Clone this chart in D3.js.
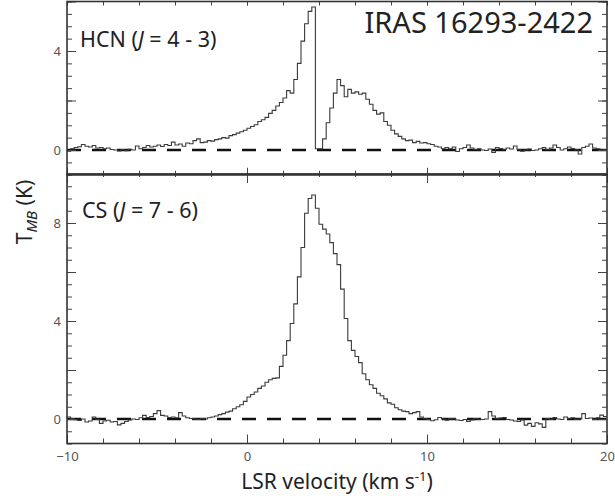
<!DOCTYPE html>
<html>
<head>
<meta charset="utf-8">
<script src="https://cdn.jsdelivr.net/npm/d3@7"></script>
<style>
  html, body { margin: 0; padding: 0; background: #fff; }
  svg { display: block; font-family: "Noto Sans", "DejaVu Sans", sans-serif; }
</style>
</head>
<body>
<svg id="chart" width="615" height="499"></svg>
<script>
// ---- Data (channel grid: start velocity and width in km/s) ----
const vStart = -10;
const channelWidth = 0.2;

// HCN (J = 4-3) main-beam temperature per channel (K)
const hcnValues = [
  -0.05, 0.05, 0.10, 0.13, 0.22, 0.15, 0.12, 0.18, 0.08, 0.10,
   0.05, 0.08, 0.02, 0.00, -0.04, 0.02, -0.03, 0.03, 0.00, 0.16,
   0.05, 0.10, 0.18, 0.12, 0.15, 0.20, 0.14, 0.22, 0.18, 0.32,
   0.20, 0.24, 0.15, 0.28, 0.25, 0.38, 0.45, 0.30, 0.32, 0.38,
   0.36, 0.42, 0.45, 0.50, 0.48, 0.58, 0.62, 0.68, 0.74, 0.80,
   0.88, 0.95, 1.02, 1.15, 1.22, 1.32, 1.48, 1.60, 1.78, 1.92,
   2.10, 2.40, 2.30, 2.85, 3.50, 4.40, 5.10, 5.60, 5.78, 0.05,
   0.05, 0.45, 1.10, 1.70, 2.30, 2.85, 2.60, 2.15, 2.45, 2.30,
   2.35, 2.25, 2.30, 2.05, 1.85, 1.60, 1.45, 1.50, 1.15, 1.00,
   0.80, 0.65, 0.55, 0.45, 0.38, 0.40, 0.30, 0.35, 0.28, 0.30,
   0.25, 0.22, 0.15, 0.12, 0.05, 0.10, 0.05, 0.12, -0.06, 0.05,
   0.10, 0.20, 0.08, 0.02, 0.05, 0.00, -0.02, 0.04, -0.10, 0.10,
   0.06, 0.02, 0.08, 0.04, 0.16, 0.02, -0.05, 0.00, 0.04, -0.02,
   0.00, 0.05, 0.10, 0.02, 0.08, 0.20, 0.10, 0.00, 0.05, 0.12,
   0.06, 0.02, -0.16, 0.10, 0.15, 0.24, 0.08, 0.05, 0.00, 0.02
];

// CS (J = 7-6) main-beam temperature per channel (K)
const csValues = [
   0.08, 0.02, -0.03, -0.06, 0.00, -0.12, -0.08, 0.08, -0.02, -0.18,
  -0.08, -0.05, -0.12, -0.10, -0.24, -0.18, -0.10, -0.04, 0.00, -0.02,
   0.05, 0.15, 0.06, 0.10, 0.22, 0.34, 0.15, 0.12, 0.06, 0.08,
   0.05, 0.26, 0.12, 0.05, 0.02, 0.00, -0.02, 0.02, 0.00, 0.05,
   0.08, 0.12, 0.18, 0.22, 0.28, 0.32, 0.42, 0.50, 0.58, 0.72,
   0.90, 1.00, 1.10, 1.25, 1.35, 1.50, 1.60, 1.66, 1.68, 2.15,
   2.60, 3.20, 3.90, 4.70, 5.80, 7.00, 8.40, 9.00, 9.14, 8.60,
   7.95, 7.75, 7.55, 7.20, 6.75, 6.30, 5.30, 4.10, 3.20, 2.80,
   2.55, 2.30, 1.85, 1.60, 1.40, 1.25, 1.05, 0.95, 0.82, 0.66,
   0.60, 0.46, 0.38, 0.32, 0.30, 0.22, 0.26, 0.30, 0.08, 0.02,
  -0.02, -0.07, -0.03, 0.06, 0.00, -0.05, 0.02, 0.01, -0.04, -0.06,
  -0.02, -0.10, -0.04, 0.02, -0.01, -0.02, 0.00, 0.30, 0.12, 0.02,
   0.04, 0.06, -0.02, -0.04, -0.08, -0.10, -0.04, -0.25, -0.18, -0.30,
  -0.15, -0.20, -0.34, 0.02, -0.02, 0.06, 0.00, -0.02, 0.08, 0.02,
   0.05, -0.02, 0.00, 0.22, 0.02, 0.04, -0.02, 0.05, 0.16, 0.10
];

const xDomain = [-10, 20];
const xTickLabels = [-10, 0, 10, 20];
const hcnDomain = [-1, 6];
const csDomain = [-1, 10];
const hcnTickLabels = [0, 4];
const csTickLabels = [0, 4, 8];

// ---- Layout ----
const svg = d3.select("#chart");
const left = 67, right = 607;
const topPanel = { top: 1.5, bottom: 174.75 };
const botPanel = { top: 174, bottom: 443.5 };

const x = d3.scaleLinear().domain(xDomain).range([left, right]);
const yTop = d3.scaleLinear().domain(hcnDomain).range([topPanel.bottom, topPanel.top]);
const yBot = d3.scaleLinear().domain(csDomain).range([botPanel.bottom, botPanel.top]);

const frameColor = "#333";
const tickColor = "#444";
const labelColor = "#555";

function points(values) {
  const pts = values.map((t, i) => [vStart + i * channelWidth, t]);
  pts.push([vStart + values.length * channelWidth, values[values.length - 1]]);
  return pts;
}

function drawPanel(y, values, panel, id, labelTicks, opts) {
  const g = svg.append("g");
  g.append("clipPath").attr("id", id)
    .append("rect").attr("x", left).attr("y", panel.top)
    .attr("width", right - left).attr("height", panel.bottom - panel.top);

  g.append("line")
    .attr("x1", x(xDomain[0])).attr("x2", x(xDomain[1]))
    .attr("y1", y(0)).attr("y2", y(0))
    .attr("stroke", "#111").attr("stroke-width", 2.5)
    .attr("stroke-dasharray", "14,11");

  const line = d3.line().curve(d3.curveStepAfter)
    .x(d => x(d[0])).y(d => y(d[1]));
  g.append("path").datum(points(values))
    .attr("clip-path", `url(#${id})`)
    .attr("d", line)
    .attr("fill", "none")
    .attr("stroke", "#3a3a3a")
    .attr("stroke-width", 1.1);

  const yMinor = d3.range(y.domain()[0], y.domain()[1] + 0.001, 0.5);
  const yMajor = d3.range(y.domain()[0] + 1, y.domain()[1] + 0.001, 2);
  const leftMinor = d3.axisRight(y).tickValues(yMinor).tickSize(5).tickFormat("");
  const leftMajor = d3.axisRight(y).tickValues(yMajor).tickSize(9).tickFormat("");
  const rightMinor = d3.axisLeft(y).tickValues(yMinor).tickSize(5).tickFormat("");
  const rightMajor = d3.axisLeft(y).tickValues(yMajor).tickSize(9).tickFormat("");
  [[leftMinor, left], [leftMajor, left], [rightMinor, right], [rightMajor, right]].forEach(([ax, px]) => {
    const a = g.append("g").attr("transform", `translate(${px},0)`).call(ax);
    a.select(".domain").remove();
    a.selectAll("line").attr("stroke", tickColor).attr("stroke-width", 1);
  });

  const lab = g.append("g").attr("transform", `translate(${left},0)`)
    .call(d3.axisLeft(y).tickValues(labelTicks).tickSize(0).tickPadding(6).tickFormat(d3.format("d")));
  lab.select(".domain").remove();
  lab.selectAll("text").attr("fill", labelColor).style("font-size", "13px")
    .style("font-family", '"Noto Sans", sans-serif');

  const xMinor = d3.range(-10, 20.001, 2);
  const xMajor = [-10, 0, 10, 20];
  const addX = (axisFn, py, values, size) => {
    const a = g.append("g").attr("transform", `translate(0,${py})`)
      .call(axisFn(x).tickValues(values).tickSize(size).tickFormat(""));
    a.select(".domain").remove();
    a.selectAll("line").attr("stroke", tickColor).attr("stroke-width", 1);
  };
  addX(d3.axisBottom, panel.top, xMinor, opts.topMinor);
  addX(d3.axisBottom, panel.top, xMajor, opts.topMajor);
  addX(d3.axisTop, panel.bottom, xMinor, opts.botMinor);
  addX(d3.axisTop, panel.bottom, xMajor, opts.botMajor);

  g.append("rect").attr("x", left).attr("y", panel.top)
    .attr("width", right - left).attr("height", panel.bottom - panel.top)
    .attr("fill", "none").attr("stroke", frameColor).attr("stroke-width", 1.6);
  return g;
}

drawPanel(yTop, hcnValues, topPanel, "clipTop", hcnTickLabels,
  { topMinor: 4, topMajor: 4, botMinor: 4, botMajor: 7 });
drawPanel(yBot, csValues, botPanel, "clipBot", csTickLabels,
  { topMinor: 3, topMajor: 9, botMinor: 5, botMajor: 9 });

svg.append("line").attr("x1", left).attr("x2", right)
  .attr("y1", 174.5).attr("y2", 174.5)
  .attr("stroke", frameColor).attr("stroke-width", 2.2);

const xl = svg.append("g").attr("transform", `translate(0,${botPanel.bottom})`)
  .call(d3.axisBottom(x).tickValues(xTickLabels).tickSize(0).tickPadding(8).tickFormat(d3.format("d")));
xl.select(".domain").remove();
xl.selectAll("text").attr("fill", labelColor).style("font-size", "13px")
  .style("font-family", '"Noto Sans", sans-serif');

// ---- Text ----
const textColor = "#222";
svg.append("text").attr("x", 593).attr("y", 33).attr("text-anchor", "end")
  .attr("fill", textColor).style("font-size", "29px").text("IRAS 16293-2422");

const t1 = svg.append("text").attr("x", 80).attr("y", 47).attr("fill", textColor).style("font-size", "21.5px");
t1.append("tspan").text("HCN (");
t1.append("tspan").style("font-style", "italic").text("J");
t1.append("tspan").text(" = 4 - 3)");

const t2 = svg.append("text").attr("x", 82).attr("y", 218).attr("fill", textColor).style("font-size", "21.5px");
t2.append("tspan").text("CS (");
t2.append("tspan").style("font-style", "italic").text("J");
t2.append("tspan").text(" = 7 - 6)");

const yl = svg.append("text")
  .attr("transform", "translate(32,212) rotate(-90)")
  .attr("text-anchor", "middle").attr("fill", textColor).style("font-size", "21px");
yl.append("tspan").text("T");
yl.append("tspan").attr("dy", 5).style("font-size", "15px").style("font-style", "italic").text("MB");
yl.append("tspan").attr("dy", -5).text(" (K)");

const xlab = svg.append("text").attr("x", 337).attr("y", 489)
  .attr("text-anchor", "middle").attr("fill", textColor).style("font-size", "21px");
xlab.append("tspan").text("LSR velocity (km s");
xlab.append("tspan").attr("dy", -8).style("font-size", "13px").text("-1");
xlab.append("tspan").attr("dy", 8).text(")");
</script>
</body>
</html>
